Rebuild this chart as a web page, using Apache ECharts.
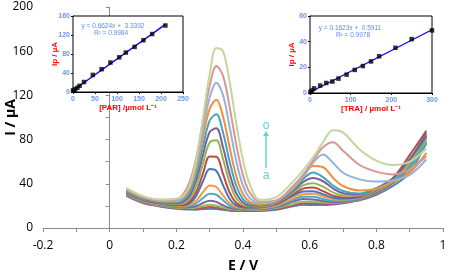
<!DOCTYPE html>
<html>
<head>
<meta charset="utf-8">
<script src="https://cdn.jsdelivr.net/npm/echarts@6/dist/echarts.min.js"></script>
<style>
  html, body { margin: 0; padding: 0; background: #fff; }
  #main { width: 450px; height: 276px; }
</style>
</head>
<body>
<div id="main"></div>
<script>
// potential grid (V)
var E = [0.05, 0.10, 0.15, 0.20, 0.22, 0.24, 0.26, 0.28, 0.30, 0.32, 0.34, 0.36, 0.38, 0.40, 0.42,
         0.45, 0.50, 0.55, 0.58, 0.61, 0.64, 0.67, 0.70, 0.75, 0.80, 0.85, 0.90, 0.95];

// current (uA), curve a (lowest) .. o (highest)
var curveA = [29, 22.5, 19.5, 17.5, 17, 16.7, 16.6, 17.2, 17.5, 17.2, 16.4, 15.7, 15.4, 15.3, 15.3, 15.4, 16.6, 19.6, 21, 20.8, 20.8, 21.3, 22.5, 25, 30, 38, 50, 78];
var curveB = [29.5, 22.9, 19.9, 17.9, 17.5, 17.2, 17.6, 18.4, 19, 18.6, 17.3, 16.4, 15.9, 15.8, 15.8, 15.9, 17.3, 20.5, 22.3, 22.5, 22.1, 22, 23, 25.5, 31, 40, 55, 84];
var curveC = [30, 23.4, 20.4, 18.5, 18, 18, 18.5, 19.9, 21, 20.3, 18.5, 17.1, 16.5, 16.3, 16.3, 16.4, 18, 21.8, 23.8, 23.8, 23, 22.6, 23.5, 26, 31.5, 40, 52, 80];
var curveD = [30.5, 23.9, 20.9, 19, 18.5, 18.8, 19.9, 22.6, 24.7, 23.6, 20.6, 18.2, 17.2, 16.8, 16.8, 16.9, 18.9, 23.9, 26.2, 25.9, 24.3, 23.4, 24, 26.5, 32, 41, 57, 84];
var curveE = [31, 24.3, 21.3, 19.5, 19.2, 19.8, 22.3, 27.2, 31, 30.1, 25.1, 20.3, 18.1, 17.4, 17.3, 17.5, 19.6, 25.4, 28.3, 28.3, 26.2, 24.6, 24.9, 27, 33, 42, 56, 82];
var curveF = [31.5, 24.8, 21.8, 20, 19.8, 20.9, 24.8, 32.4, 38.4, 37.1, 29.5, 22.3, 18.9, 18, 17.8, 18, 20.3, 26.8, 30.6, 30.9, 28.5, 26.1, 25.7, 27.5, 33.5, 43, 59, 84];
var curveG = [32, 25.2, 22.2, 20.5, 20.5, 22.4, 29.3, 42.3, 53.4, 51.7, 38.8, 26.3, 20.4, 18.6, 18.3, 18.5, 21.5, 29, 33.1, 33.3, 30.5, 27.4, 26.6, 28, 34, 44, 62, 86];
var curveH = [32.5, 25.7, 22.7, 21.1, 21.2, 23.9, 32.9, 49.4, 64.6, 64.5, 48.9, 32, 22.6, 19.5, 18.9, 19, 21.9, 30.4, 35.6, 36.6, 33.4, 29.3, 27.6, 28.5, 35, 45, 66, 88];
var curveI = [33, 26.1, 23.1, 21.7, 22.2, 26.4, 38, 58.5, 77.3, 79.3, 62.4, 40.9, 26.7, 21, 19.6, 19.5, 22.8, 32, 38.5, 40.5, 37.4, 32.2, 29.3, 29.5, 35, 44, 60, 82];
var curveJ = [33.5, 26.6, 23.6, 22.4, 23.6, 29.2, 43.7, 66.3, 86.9, 90.2, 73.1, 49, 31.3, 23, 20.4, 20.3, 23.6, 33.5, 41.5, 45.2, 42.3, 35.9, 31.4, 30.5, 36, 45, 62, 83];
var curveK = [34, 27, 24, 23.2, 25.1, 32.3, 48.7, 73.9, 97.2, 102.9, 86.5, 60, 38, 26.2, 21.8, 20.8, 24.3, 34.5, 44, 50.2, 46, 38.5, 33.5, 31.2, 36, 43, 55, 76];
var curveL = [34.5, 27.5, 24.5, 24, 26.8, 35.7, 54.6, 82.2, 107.8, 116.1, 101, 72.8, 46.6, 30.7, 23.7, 21.5, 24.8, 35.5, 46, 56, 55, 45.5, 38, 34, 35.5, 42, 50, 68];
var curveM = [35, 27.9, 24.9, 24.9, 28.3, 38.1, 58.5, 88.7, 118.1, 131.5, 120.3, 91.3, 60.3, 38.3, 27.3, 22.4, 24.3, 36.5, 46.5, 59, 66.5, 59, 50, 44, 42, 43, 48, 62];
var curveN = [35.5, 28.4, 25.4, 26, 30.2, 41.7, 63.8, 96.4, 128.5, 146.5, 137.9, 109.2, 75.2, 47.8, 32.1, 23.8, 25, 38, 48, 61, 73, 77.5, 70, 57, 51, 48.5, 53, 65];
var curveO = [36, 28.8, 25.8, 26.5, 29, 38, 62, 100, 139, 163, 160, 132.1, 94.3, 61.5, 39.9, 25.5, 28, 42, 52, 64, 77.5, 88.5, 86.5, 71, 61, 57, 60, 72];

var curves = [curveA, curveB, curveC, curveD, curveE, curveF, curveG, curveH, curveI, curveJ, curveK, curveL, curveM, curveN, curveO];
var curveNames = ['a', 'b', 'c', 'd', 'e', 'f', 'g', 'h', 'i', 'j', 'k', 'l', 'm', 'n', 'o'];
var curveColors = ['#4F81BD', '#C0504D', '#9BBB59', '#8064A2', '#4BACC6', '#F79646',
                   '#4677B3', '#B94A47', '#93B653', '#79609B', '#45A6BF', '#F28E3C',
                   '#95B3D7', '#D99694', '#C3D69B'];

// inset 1: PAR calibration
var parConc = [0, 2, 5, 10, 15, 25, 45, 65, 85, 105, 120, 140, 160, 180, 210];
var parIp = [3, 4, 6, 9, 13, 21, 36, 48, 62, 73, 83, 95, 109, 122, 140];
var parFit = [[0, 3.3], [210, 142.4]];

// inset 2: TRA calibration
var traConc = [1, 5, 10, 25, 40, 55, 70, 90, 110, 130, 150, 170, 210, 250, 300];
var traIp = [0.8, 2, 3.6, 5.8, 7.8, 8.9, 11.2, 14.3, 18, 21, 24.6, 28.6, 35.2, 42, 48.8];
var traFit = [[0, 0.6], [300, 49.3]];

var myChart = echarts.init(document.getElementById('main'), null, {renderer: 'canvas'});

var mainFont = 'Open Sans';
var insetFont = 'Liberation Sans';
var insetLabel = {color: '#6E94EC', fontSize: 7, fontFamily: insetFont, fontWeight: 'bold'};
var insetName = {color: '#FF0000', fontSize: 8, fontFamily: insetFont, fontWeight: 'bold'};
var cyan = '#5CD3D9';

var series = [];
for (let i = 0; i < curves.length; i++) {
    series.push({
        name: curveNames[i],
        type: 'line',
        xAxisIndex: 0,
        yAxisIndex: 0,
        data: E.map(function (e, j) { return [e, curves[i][j]]; }),
        smooth: 0.35,
        showSymbol: false,
        lineStyle: {color: curveColors[i], width: 2},
        z: 2 + i
    });
}
series.push({
    type: 'line', xAxisIndex: 1, yAxisIndex: 1, data: parFit,
    showSymbol: false, lineStyle: {color: '#0000FF', width: 1.3}, z: 30
});
series.push({
    type: 'scatter', xAxisIndex: 1, yAxisIndex: 1,
    data: parConc.map(function (c, j) { return [c, parIp[j]]; }),
    symbol: 'rect', symbolSize: 4.5, itemStyle: {color: '#000'}, z: 31
});
series.push({
    type: 'line', xAxisIndex: 2, yAxisIndex: 2, data: traFit,
    showSymbol: false, lineStyle: {color: '#0000FF', width: 1.3}, z: 30
});
series.push({
    type: 'scatter', xAxisIndex: 2, yAxisIndex: 2,
    data: traConc.map(function (c, j) { return [c, traIp[j]]; }),
    symbol: 'rect', symbolSize: 4.5, itemStyle: {color: '#000'}, z: 31
});

function insetAxis(grid, min, max, interval, name, gap, isY) {
    return {
        type: 'value', gridIndex: grid, min: min, max: max, interval: interval,
        name: name, nameLocation: 'middle', nameGap: gap, nameTextStyle: insetName,
        nameMoveOverlap: false,
        axisLine: {show: true, lineStyle: {color: '#000', width: 1}},
        axisTick: {show: true, length: 2, lineStyle: {color: '#000'}},
        axisLabel: Object.assign({margin: isY ? 3 : 4}, insetLabel),
        splitLine: {show: false}
    };
}

let option = {
    backgroundColor: '#fff',
    animation: false,
    grid: [
        {left: 43, right: 7, top: 7, bottom: 48, outerBoundsMode: 'none'},
        {left: 73, top: 16, width: 110, height: 76, outerBoundsMode: 'none', show: true, borderColor: '#000', borderWidth: 1, backgroundColor: '#fff', z: 20},
        {left: 310, top: 16, width: 122, height: 77, outerBoundsMode: 'none', show: true, borderColor: '#000', borderWidth: 1, backgroundColor: '#fff', z: 20}
    ],
    xAxis: [
        {
            type: 'value', gridIndex: 0, min: -0.2, max: 1, interval: 0.2,
            name: 'E / V', nameLocation: 'middle', nameGap: 31, nameMoveOverlap: false,
            nameTextStyle: {color: '#000', fontSize: 14, fontWeight: 'bold', fontFamily: mainFont},
            axisLine: {show: true, onZero: false, lineStyle: {color: '#8C8C8C', width: 1}},
            axisTick: {show: true, length: 4, lineStyle: {color: '#8C8C8C'}},
            minorTick: {show: true, splitNumber: 2, length: 4, lineStyle: {color: '#8C8C8C'}},
            axisLabel: {color: '#000', fontSize: 12, fontFamily: mainFont, margin: 12},
            splitLine: {show: false}
        },
        insetAxis(1, 0, 250, 50, '[PAR] /\u00b5mol L\u207b\u00b9', 12, false),
        insetAxis(2, 0, 300, 100, '[TRA] / \u00b5mol L\u207b\u00b9', 12, false)
    ],
    yAxis: [
        {
            type: 'value', gridIndex: 0, min: 0, max: 200, interval: 40,
            name: 'I / \u00b5A', nameLocation: 'middle', nameGap: 25, nameMoveOverlap: false,
            nameTextStyle: {color: '#000', fontSize: 14, fontWeight: 'bold', fontFamily: mainFont},
            axisLine: {show: true, lineStyle: {color: '#8C8C8C', width: 1}},
            axisTick: {show: true, length: 4, lineStyle: {color: '#8C8C8C'}},
            minorTick: {show: true, splitNumber: 2, length: 4, lineStyle: {color: '#8C8C8C'}},
            axisLabel: {color: '#000', fontSize: 12, fontFamily: mainFont, margin: 10},
            splitLine: {show: false}
        },
        insetAxis(1, 0, 160, 40, 'Ip / \u00b5A', 14, true),
        insetAxis(2, 0, 60, 20, 'Ip / \u00b5A', 14, true)
    ],
    graphic: [
        {type: 'text', x: 113, y: 26, z: 100, style: {text: 'y = 0.6624x +  3.3392', fill: '#5E8BEA', font: '6.5px "Liberation Sans"', textAlign: 'center', textVerticalAlign: 'middle'}},
        {type: 'text', x: 111, y: 33, z: 100, style: {text: 'R\u00b2 = 0.9984', fill: '#5E8BEA', font: '6.5px "Liberation Sans"', textAlign: 'center', textVerticalAlign: 'middle'}},
        {type: 'text', x: 350, y: 28, z: 100, style: {text: 'y = 0.1623x +  0.5911', fill: '#5E8BEA', font: '6.5px "Liberation Sans"', textAlign: 'center', textVerticalAlign: 'middle'}},
        {type: 'text', x: 353, y: 35, z: 100, style: {text: 'R\u00b2 = 0.9978', fill: '#5E8BEA', font: '6.5px "Liberation Sans"', textAlign: 'center', textVerticalAlign: 'middle'}},
        {type: 'text', x: 266, y: 126, z: 100, style: {text: 'o', fill: cyan, font: '12px "Liberation Sans"', textAlign: 'center', textVerticalAlign: 'middle'}},
        {type: 'text', x: 266, y: 176, z: 100, style: {text: 'a', fill: cyan, font: '12px "Liberation Sans"', textAlign: 'center', textVerticalAlign: 'middle'}},
        {type: 'line', z: 100, shape: {x1: 266, y1: 168, x2: 266, y2: 135}, style: {stroke: cyan, lineWidth: 1.5}},
        {type: 'polygon', z: 100, shape: {points: [[263, 136], [269, 136], [266, 131]]}, style: {fill: cyan}}
    ],
    series: series
};
myChart.setOption(option);
</script>
</body>
</html>
